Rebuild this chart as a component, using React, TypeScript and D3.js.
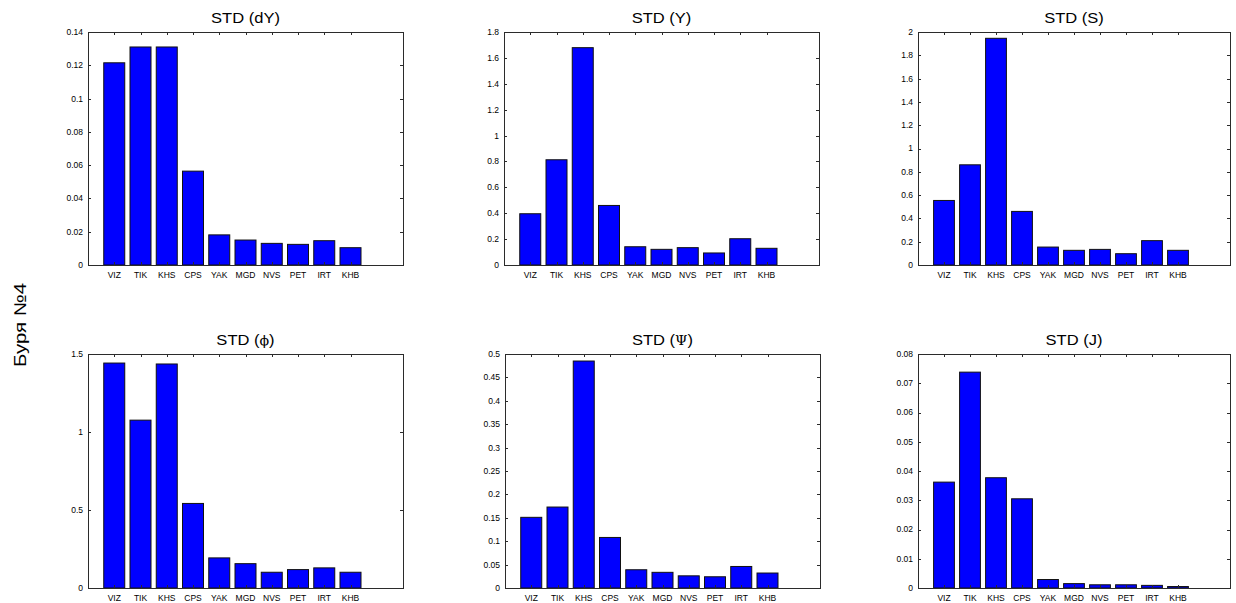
import React, { useEffect, useRef } from "react";
import * as d3 from "d3";

// stations along x
const stations = ["VIZ", "TIK", "KHS", "CPS", "YAK", "MGD", "NVS", "PET", "IRT", "KHB"];

// series values per panel
const stdDY = [0.1215, 0.131, 0.131, 0.0564, 0.0181, 0.015, 0.013, 0.0124, 0.0146, 0.0104];
const stdY = [0.396, 0.813, 1.679, 0.46, 0.141, 0.121, 0.134, 0.093, 0.203, 0.129];
const stdS = [0.554, 0.86, 1.946, 0.46, 0.154, 0.126, 0.134, 0.097, 0.209, 0.126];
const stdPhi = [1.442, 1.076, 1.436, 0.542, 0.193, 0.156, 0.101, 0.118, 0.129, 0.101];
const stdPsi = [0.151, 0.173, 0.485, 0.108, 0.039, 0.0335, 0.026, 0.024, 0.046, 0.032];
const stdJ = [0.0362, 0.0738, 0.0377, 0.0305, 0.0029, 0.0015, 0.0011, 0.0011, 0.0009, 0.0005];

// y tick labels per panel
const ticksDY = [0, 0.02, 0.04, 0.06, 0.08, 0.1, 0.12, 0.14];
const ticksY = [0, 0.2, 0.4, 0.6, 0.8, 1, 1.2, 1.4, 1.6, 1.8];
const ticksS = [0, 0.2, 0.4, 0.6, 0.8, 1, 1.2, 1.4, 1.6, 1.8, 2];
const ticksPhi = [0, 0.5, 1, 1.5];
const ticksPsi = [0, 0.05, 0.1, 0.15, 0.2, 0.25, 0.3, 0.35, 0.4, 0.45, 0.5];
const ticksJ = [0, 0.01, 0.02, 0.03, 0.04, 0.05, 0.06, 0.07, 0.08];

const sideLabel = "Буря №4";

interface Panel {
  sym: string;
  symbolFont: boolean;
  values: number[];
  ticks: number[];
  box: [number, number, number, number]; // x0, x1, y0, y1
}

const panels: Panel[] = [
  { sym: "dY", symbolFont: false, values: stdDY, ticks: ticksDY, box: [88, 403, 32, 265] },
  { sym: "Y", symbolFont: false, values: stdY, ticks: ticksY, box: [504, 819, 32, 265] },
  { sym: "S", symbolFont: false, values: stdS, ticks: ticksS, box: [918, 1230, 32, 265] },
  { sym: "ϕ", symbolFont: true, values: stdPhi, ticks: ticksPhi, box: [88, 403, 354, 588] },
  { sym: "Ψ", symbolFont: true, values: stdPsi, ticks: ticksPsi, box: [505, 820, 354, 588] },
  { sym: "J", symbolFont: false, values: stdJ, ticks: ticksJ, box: [918, 1230, 354, 588] },
];

const FONT = "'Liberation Sans', Arial, sans-serif";
const AXIS = "#2b2b2b";

export default function App() {
  const svgRef = useRef<SVGSVGElement | null>(null);

  useEffect(() => {
    if (!svgRef.current) return;
    const svg = d3.select(svgRef.current);
    svg.selectAll("*").remove();

    svg.append("rect").attr("width", 1236).attr("height", 603).attr("fill", "#fff");

    panels.forEach((p) => {
      const [x0, x1, y0, y1] = p.box;
      const x = d3.scaleLinear().domain([0, 12]).range([x0, x1]);
      const y = d3
        .scaleLinear()
        .domain([0, p.ticks[p.ticks.length - 1]])
        .range([y1, y0]);
      const step = x(1) - x(0);
      const bw = step * 0.8;
      const g = svg.append("g");

      // bars
      g.selectAll(".bar")
        .data(p.values)
        .enter()
        .append("rect")
        .attr("x", (_, i) => x(i + 1) - bw / 2)
        .attr("y", (d) => y(d))
        .attr("width", bw)
        .attr("height", (d) => y1 - y(d))
        .attr("fill", "#0000ff")
        .attr("stroke", "#111")
        .attr("stroke-width", 1);

      // box
      g.append("rect")
        .attr("x", x0 + 0.5)
        .attr("y", y0 + 0.5)
        .attr("width", x1 - x0)
        .attr("height", y1 - y0)
        .attr("fill", "none")
        .attr("stroke", AXIS)
        .attr("stroke-width", 1);

      const tl = 3;
      // y ticks, inside on both sides
      p.ticks.forEach((t) => {
        const yy = Math.round(y(t)) + 0.5;
        g.append("line")
          .attr("x1", x0).attr("x2", x0 + tl)
          .attr("y1", yy).attr("y2", yy)
          .attr("stroke", AXIS);
        g.append("line")
          .attr("x1", x1 - tl).attr("x2", x1)
          .attr("y1", yy).attr("y2", yy)
          .attr("stroke", AXIS);
        g.append("text")
          .attr("x", x0 - 5)
          .attr("y", y(t))
          .attr("dy", "0.35em")
          .attr("text-anchor", "end")
          .style("font-family", FONT)
          .style("font-size", "8.5px")
          .attr("fill", "#000")
          .text(String(t));
      });

      // x ticks at categories, inside top and bottom
      stations.forEach((s, i) => {
        const xx = Math.round(x(i + 1)) + 0.5;
        g.append("line")
          .attr("x1", xx).attr("x2", xx)
          .attr("y1", y0).attr("y2", y0 + tl)
          .attr("stroke", AXIS);
        g.append("line")
          .attr("x1", xx).attr("x2", xx)
          .attr("y1", y1 - tl).attr("y2", y1)
          .attr("stroke", AXIS);
        g.append("text")
          .attr("x", x(i + 1))
          .attr("y", y1 + 13)
          .attr("text-anchor", "middle")
          .style("font-family", FONT)
          .style("font-size", "8.5px")
          .attr("fill", "#000")
          .text(s);
      });

      // title, slightly stretched horizontally like the original
      const title = g
        .append("text")
        .attr("transform", `translate(${(x0 + x1) / 2},${y0 - 9}) scale(1.18,1)`)
        .attr("text-anchor", "middle")
        .style("font-family", FONT)
        .style("font-size", "14px")
        .attr("fill", "#000");
      title.append("tspan").text("STD (");
      title
        .append("tspan")
        .style("font-family", p.symbolFont ? "'DejaVu Serif', 'Liberation Serif', serif" : FONT)
        .style("font-size", p.symbolFont ? "12px" : "14px")
        .text(p.sym);
      title.append("tspan").text(")");
    });

    svg
      .append("text")
      .attr("transform", "translate(26,325) rotate(-90)")
      .attr("text-anchor", "middle")
      .attr("textLength", 84)
      .attr("lengthAdjust", "spacingAndGlyphs")
      .style("font-family", FONT)
      .style("font-size", "17px")
      .attr("fill", "#000")
      .text(sideLabel);
  }, []);

  return (
    <div style={{ position: "absolute", left: 0, top: 0 }}>
      <svg ref={svgRef} width={1236} height={603} style={{ display: "block" }} />
    </div>
  );
}
